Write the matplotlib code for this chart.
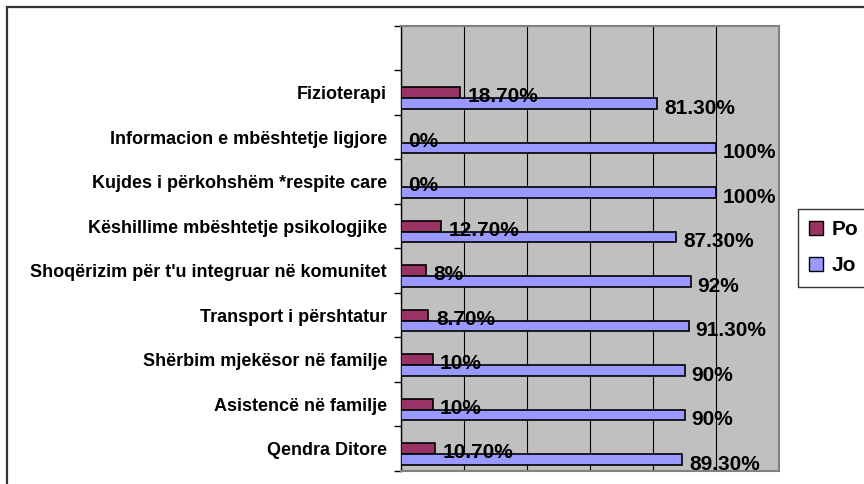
import matplotlib
matplotlib.use("Agg")
import matplotlib.pyplot as plt
from matplotlib.patches import Rectangle, Patch

categories = [
    "Fizioterapi",
    "Informacion e mbështetje ligjore",
    "Kujdes i përkohshëm *respite care",
    "Këshillime mbështetje psikologjike",
    "Shoqërizim për t'u integruar në komunitet",
    "Transport i përshtatur",
    "Shërbim mjekësor në familje",
    "Asistencë në familje",
    "Qendra Ditore",
]
po = [18.7, 0, 0, 12.7, 8, 8.7, 10, 10, 10.7]
jo = [81.3, 100, 100, 87.3, 92, 91.3, 90, 90, 89.3]
po_labels = ["18.70%", "0%", "0%", "12.70%", "8%", "8.70%", "10%", "10%", "10.70%"]
jo_labels = ["81.30%", "100%", "100%", "87.30%", "92%", "91.30%", "90%", "90%", "89.30%"]

plt.rcParams["font.family"] = ["Liberation Sans", "DejaVu Sans"]
plt.rcParams["font.weight"] = "bold"

fig = plt.figure(figsize=(8.64, 4.84), dpi=100)
ax = fig.add_axes([401 / 864, 1 - 471 / 484, 378 / 864, 445 / 484])
ax.set_facecolor("#c0c0c0")

# first slot at the top stays empty
pos = [i + 1 for i in range(len(categories))]
h = 0.236
po_y = pos
jo_y = [p + h for p in pos]

ax.barh(po_y, po, height=h, color="#993366", edgecolor="black", linewidth=1.2, zorder=3)
ax.barh(jo_y, jo, height=h, color="#9999ff", edgecolor="black", linewidth=1.2, zorder=3)

for y, v, t in zip(po_y, po, po_labels):
    ax.text(v + 2.4, y + 0.09, t, va="center", ha="left", fontsize=15,
            fontweight="bold", zorder=4)
for y, v, t in zip(jo_y, jo, jo_labels):
    ax.text(v + 2.2, y + 0.11, t, va="center", ha="left", fontsize=15,
            fontweight="bold", zorder=4, clip_on=False)

ax.set_xlim(0, 120)
ax.set_ylim(9.5, -0.5)
ax.set_xticks(range(0, 121, 20))
ax.xaxis.grid(True, color="black", linewidth=0.8, zorder=1)
ax.tick_params(axis="x", length=0, labelbottom=False)

ax.set_yticks(pos)
ax.set_yticklabels(categories, fontsize=13, fontweight="bold")
ax.tick_params(axis="y", which="major", length=0, pad=10)
ax.set_yticks([i - 0.5 for i in range(11)], minor=True)
ax.tick_params(axis="y", which="minor", length=5, width=1, direction="out")

for side in ["top", "right", "bottom"]:
    ax.spines[side].set_color("#808080")
    ax.spines[side].set_linewidth(1.5)
ax.spines["left"].set_color("black")
ax.spines["left"].set_linewidth(1)

# chart area frame
fig.patches.append(Rectangle((6.5 / 864, -0.1), 1.2, 1 - 7.5 / 484 + 0.1,
                             transform=fig.transFigure, fill=False,
                             edgecolor="#333333", linewidth=1.6))

handles = [Patch(facecolor="#993366", edgecolor="black", label="Po"),
           Patch(facecolor="#9999ff", edgecolor="black", label="Jo")]
leg = fig.legend(handles=handles, loc="upper left",
                 bbox_to_anchor=(798 / 864, 1 - 209 / 484),
                 frameon=True, fancybox=False, fontsize=15,
                 handlelength=0.65, handleheight=0.65, handletextpad=0.4,
                 labelspacing=0.8, borderpad=0.55, borderaxespad=0)
leg.get_frame().set_edgecolor("black")
leg.get_frame().set_linewidth(1)
for t in leg.get_texts():
    t.set_fontweight("bold")

fig.savefig("out.png", dpi=100)
